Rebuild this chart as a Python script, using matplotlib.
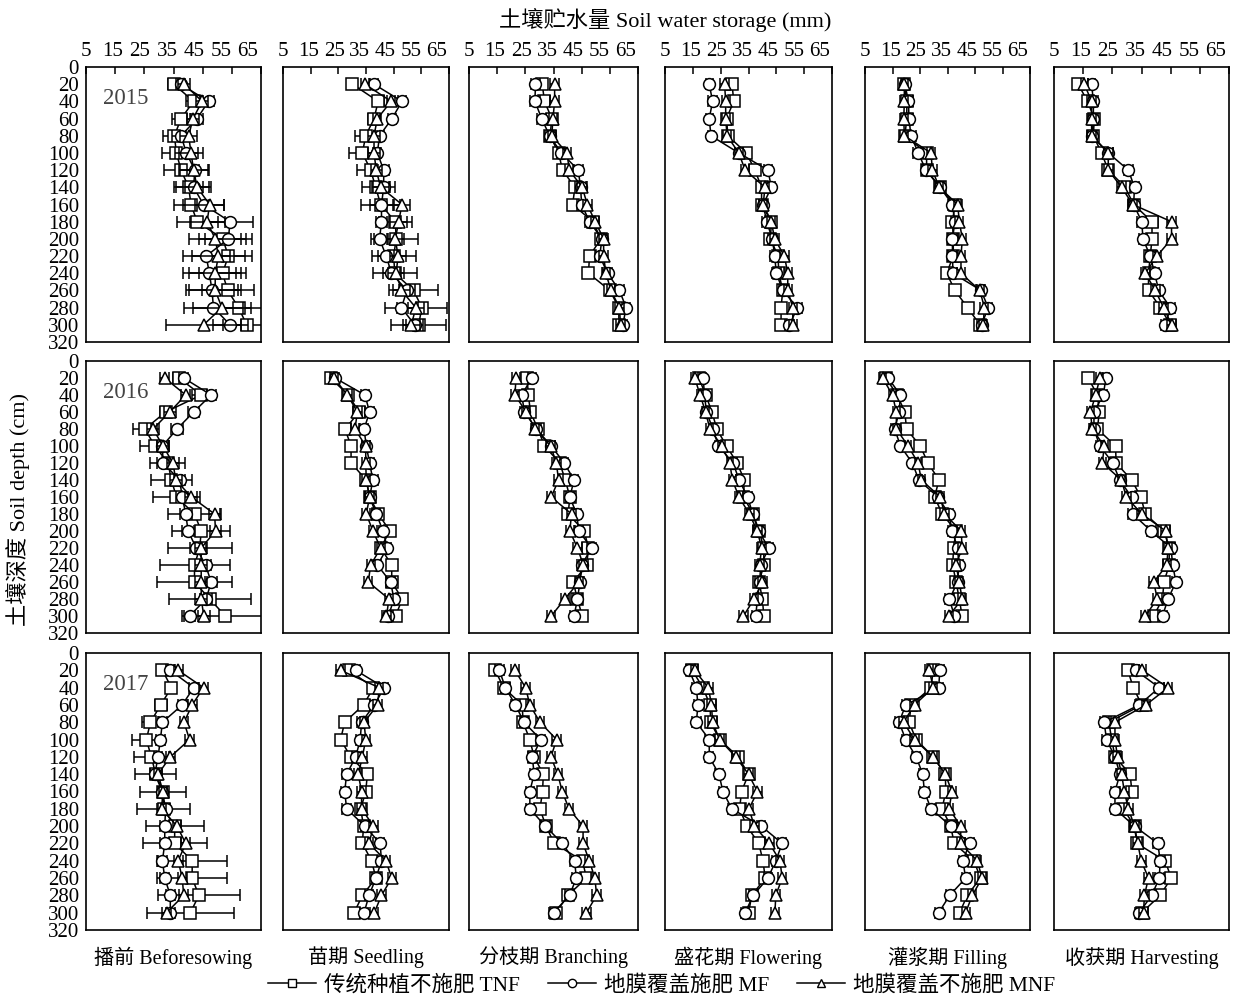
import numpy as np
import matplotlib
matplotlib.use('Agg')
import matplotlib.pyplot as plt
from matplotlib.lines import Line2D

plt.rcParams['font.family'] = ['Liberation Serif', 'Noto Sans CJK SC']

depth = [20, 40, 60, 80, 100, 120, 140, 160, 180, 200, 220, 240, 260, 280, 300]
stages = ['播前 Beforesowing', '苗期 Seedling', '分枝期 Branching',
          '盛花期 Flowering', '灌浆期 Filling', '收获期 Harvesting']
years = ['2015', '2016', '2017']
series_names = ['传统种植不施肥 TNF', '地膜覆盖施肥 MF', '地膜覆盖不施肥 MNF']
x_labels = [5, 15, 25, 35, 45, 55, 65]

# 2015, one list per stage
tnf_2015 = [
    [35.1, 41.9, 37.6, 35.3, 36.0, 37.6, 40.2, 41.0, 43.1, 51.9, 53.8, 51.8, 53.6, 57.3, 60.1],
    [30.1, 39.4, 37.9, 34.9, 33.7, 36.7, 38.5, 40.3, 45.6, 45.9, 45.0, 45.4, 52.2, 55.2, 54.0],
    [31.0, 31.8, 34.4, 33.8, 36.8, 38.2, 42.6, 41.8, 49.0, 51.8, 47.8, 47.4, 55.0, 58.2, 58.2],
    [29.1, 29.7, 27.1, 27.6, 34.2, 37.3, 39.7, 39.7, 43.2, 42.9, 45.6, 45.9, 47.3, 46.7, 46.7],
    [19.3, 20.2, 20.2, 19.5, 27.4, 27.4, 32.3, 37.7, 36.8, 37.1, 37.1, 34.7, 37.7, 42.3, 46.8],
    [13.3, 16.5, 18.8, 18.5, 21.3, 23.6, 29.4, 32.3, 38.6, 38.6, 38.0, 37.4, 37.4, 41.5, 44.9],
]
mf_2015 = [
    [37.4, 47.0, 43.1, 37.6, 39.4, 42.3, 41.9, 45.3, 54.4, 53.8, 46.2, 47.3, 48.2, 48.7, 54.4],
    [37.9, 48.0, 44.4, 39.9, 39.1, 41.4, 41.4, 40.6, 40.6, 39.9, 42.3, 44.2, 49.8, 47.8, 52.6],
    [28.6, 28.4, 30.8, 33.6, 37.8, 43.8, 44.6, 45.0, 47.8, 52.2, 51.4, 54.2, 58.4, 60.8, 59.6],
    [20.9, 22.1, 20.9, 21.5, 31.5, 42.0, 43.2, 40.3, 41.5, 43.6, 44.4, 45.0, 47.3, 52.6, 49.7],
    [19.5, 20.8, 21.0, 21.7, 24.4, 27.1, 32.3, 36.8, 37.7, 36.8, 36.8, 37.0, 47.2, 49.8, 47.4],
    [17.9, 18.5, 18.5, 18.1, 23.6, 30.5, 32.6, 32.3, 35.1, 35.5, 38.0, 39.5, 40.9, 44.9, 43.2],
]
mnf_2015 = [
    [38.7, 44.8, 41.7, 40.2, 41.0, 41.9, 43.1, 47.4, 46.5, 49.3, 50.4, 49.3, 49.3, 51.6, 45.3],
    [34.6, 44.1, 39.1, 37.9, 37.9, 38.7, 40.3, 48.0, 46.8, 45.6, 46.6, 45.9, 47.8, 53.0, 51.4],
    [35.4, 35.4, 34.8, 34.4, 39.8, 40.6, 45.2, 47.0, 49.8, 52.8, 52.8, 53.6, 55.4, 58.4, 58.8],
    [26.4, 26.8, 26.8, 27.3, 31.5, 33.8, 40.9, 40.3, 43.2, 44.4, 47.9, 49.1, 49.1, 50.9, 50.9],
    [19.3, 19.3, 19.1, 19.3, 29.0, 29.5, 32.0, 38.7, 39.3, 40.4, 39.9, 39.9, 46.8, 48.4, 48.0],
    [15.4, 17.9, 17.9, 17.9, 23.6, 23.6, 28.2, 32.0, 45.3, 45.3, 40.3, 36.3, 39.7, 42.6, 45.3],
]

# 2016
tnf_2016 = [
    [36.9, 44.5, 32.3, 25.2, 28.6, 33.1, 34.3, 36.0, 42.2, 44.5, 44.0, 42.2, 42.2, 47.4, 52.8],
    [22.2, 28.6, 32.5, 27.4, 29.6, 29.6, 35.1, 36.3, 39.5, 43.6, 40.3, 44.3, 44.3, 48.1, 45.7],
    [25.6, 26.1, 26.8, 29.5, 31.8, 37.2, 39.2, 40.8, 40.2, 45.9, 47.4, 46.8, 42.0, 43.5, 45.2],
    [17.2, 19.6, 21.9, 23.6, 27.1, 30.9, 33.5, 33.2, 36.7, 38.8, 40.5, 40.5, 38.8, 40.0, 40.5],
    [12.6, 16.7, 19.5, 20.1, 25.1, 27.9, 31.9, 30.3, 33.1, 38.1, 37.2, 36.9, 38.1, 39.3, 40.3],
    [16.7, 19.9, 20.5, 19.9, 26.1, 26.3, 31.6, 34.8, 36.3, 42.7, 44.5, 44.5, 42.7, 42.2, 39.2],
]
mf_2016 = [
    [38.5, 47.9, 41.9, 36.2, 31.2, 31.4, 37.1, 38.0, 39.2, 40.0, 42.8, 46.0, 47.9, 46.2, 40.5],
    [23.8, 34.6, 36.3, 34.3, 35.1, 36.3, 37.5, 36.3, 38.7, 41.2, 42.7, 39.1, 43.9, 45.1, 43.1],
    [27.3, 23.7, 24.7, 28.9, 34.2, 38.8, 42.3, 40.8, 43.2, 44.0, 48.5, 45.0, 44.4, 43.5, 42.3],
    [18.7, 19.2, 19.9, 22.2, 24.2, 29.5, 31.6, 34.7, 36.5, 38.6, 42.3, 39.4, 39.0, 38.2, 37.6],
    [13.4, 17.9, 17.4, 15.8, 17.9, 22.2, 24.6, 31.5, 35.5, 36.7, 38.7, 39.1, 38.7, 35.7, 37.5],
    [22.8, 21.9, 18.7, 18.7, 20.7, 25.2, 27.5, 31.6, 32.0, 38.3, 45.1, 45.7, 46.8, 44.1, 42.2],
]
mnf_2016 = [
    [32.0, 39.2, 33.7, 28.0, 31.4, 34.8, 35.8, 41.1, 49.1, 49.4, 44.5, 44.5, 44.5, 44.5, 45.4],
    [23.4, 28.3, 31.9, 31.0, 34.9, 34.9, 35.1, 36.3, 35.1, 37.5, 40.3, 36.7, 35.8, 43.3, 42.4],
    [21.7, 21.3, 25.3, 28.5, 34.0, 36.0, 36.8, 34.2, 41.4, 40.8, 43.5, 45.6, 44.0, 39.0, 34.2],
    [15.7, 17.6, 19.6, 21.1, 25.4, 28.3, 29.2, 31.6, 35.3, 38.2, 39.7, 39.0, 40.0, 37.0, 33.2],
    [11.4, 15.0, 16.4, 16.4, 20.7, 24.3, 25.5, 32.4, 33.9, 40.0, 40.3, 38.1, 39.3, 40.3, 35.5],
    [20.7, 19.3, 17.5, 18.1, 22.2, 21.6, 28.1, 29.8, 35.1, 43.3, 44.1, 43.7, 39.2, 40.4, 36.3],
]

# 2017
tnf_2017 = [
    [31.2, 34.3, 30.6, 27.1, 25.7, 27.4, 28.9, 31.4, 31.6, 35.4, 35.4, 41.4, 41.4, 43.7, 40.8],
    [28.9, 37.7, 34.1, 27.3, 25.8, 29.5, 35.5, 34.9, 33.1, 34.1, 33.7, 37.0, 38.6, 33.7, 30.7],
    [14.3, 17.3, 23.9, 24.2, 26.6, 28.1, 31.4, 31.1, 30.2, 32.3, 35.3, 45.3, 46.7, 40.1, 35.9],
    [14.8, 18.6, 21.2, 21.4, 24.6, 31.3, 35.0, 32.5, 31.8, 34.4, 38.7, 40.2, 41.0, 36.2, 35.0],
    [29.8, 29.0, 21.8, 21.0, 23.6, 29.8, 34.2, 34.4, 33.0, 36.2, 37.4, 44.6, 47.0, 42.2, 39.4],
    [30.3, 32.2, 35.1, 23.8, 24.8, 25.9, 31.1, 31.7, 28.8, 32.6, 33.4, 43.1, 45.2, 41.4, 35.1],
]
mf_2017 = [
    [33.9, 41.9, 38.0, 31.2, 30.5, 29.7, 28.6, 31.2, 32.3, 32.0, 32.0, 31.2, 32.0, 33.9, 33.9],
    [31.3, 41.6, 38.0, 33.4, 32.9, 31.3, 28.0, 27.3, 28.0, 34.6, 40.1, 40.6, 38.6, 36.1, 34.3],
    [15.8, 17.9, 21.5, 24.5, 30.5, 27.5, 28.1, 26.6, 26.6, 32.1, 38.1, 42.5, 43.1, 40.7, 35.0],
    [13.7, 16.3, 16.8, 16.3, 20.9, 20.9, 24.4, 25.8, 29.0, 39.6, 47.1, 44.8, 42.0, 36.7, 33.8],
    [32.2, 31.8, 19.8, 17.4, 19.8, 23.6, 26.0, 26.6, 29.0, 36.2, 43.0, 40.6, 41.6, 35.8, 31.8],
    [33.0, 41.1, 34.2, 22.2, 23.0, 25.9, 27.6, 25.9, 25.9, 32.6, 40.6, 41.4, 41.1, 38.5, 34.2],
]
mnf_2017 = [
    [36.6, 45.3, 41.4, 38.6, 40.5, 33.9, 29.7, 31.4, 30.9, 36.2, 39.2, 36.6, 38.0, 38.5, 32.6],
    [25.8, 39.8, 39.2, 34.3, 34.9, 33.7, 32.2, 33.4, 33.4, 37.7, 36.1, 42.2, 44.3, 40.6, 38.0],
    [21.3, 25.1, 26.6, 30.2, 36.1, 34.1, 36.5, 38.1, 40.5, 45.5, 45.5, 47.7, 49.7, 50.3, 46.7],
    [15.6, 20.6, 21.7, 22.1, 24.6, 30.4, 35.0, 38.2, 35.2, 37.1, 42.5, 46.3, 47.1, 44.8, 44.5],
    [28.4, 29.8, 23.0, 19.0, 23.0, 29.8, 34.2, 36.6, 35.6, 39.8, 39.8, 45.8, 47.6, 44.0, 41.6],
    [35.3, 44.1, 36.5, 25.9, 25.9, 26.8, 28.2, 29.1, 30.5, 32.6, 33.7, 34.9, 37.4, 36.0, 35.7],
]

# standard errors (same layout)
tnf_err_2015 = [
    [2, 2.5, 3, 4, 5, 6, 5, 6, 7, 8, 8, 8, 9, 9, 8],
    [1.5, 2, 2, 4, 5, 5, 5, 7, 6, 8, 8, 8, 9, 9, 10],
    [1.8, 2, 1.5, 1.5, 1.5, 1.5, 1.8, 1.5, 1.5, 1.5, 1.5, 1.8, 1.5, 1.5, 1.5],
    [1.5, 1.8, 1.5, 1.5, 1.5, 1.8, 1.5, 1.5, 1.5, 1.5, 1.5, 1.5, 1.5, 1.5, 1.5],
    [1.2, 1.5, 1.5, 1.8, 1.8, 1.5, 1.5, 1.5, 1.5, 1.5, 1.5, 1.5, 1.5, 1.5, 1.5],
    [1.2, 1.5, 1.5, 1.5, 1.5, 1.5, 1.5, 1.5, 2.0, 1.5, 1.5, 1.5, 1.5, 1.5, 1.5],
]
mf_err_2015 = [
    [1.5, 2, 2, 3, 4, 5, 6, 7, 8, 8, 8, 9, 9, 10, 6],
    [1.5, 1.5, 1.5, 1.5, 1.5, 2, 4, 4, 2, 3, 3, 3, 3, 6, 3],
    [1.5, 1.8, 1.5, 1.5, 1.5, 1.5, 1.8, 1.5, 1.5, 1.5, 1.5, 1.5, 1.5, 1.5, 1.5],
    [1.2, 1.5, 1.2, 1.2, 1.5, 1.5, 1.5, 1.5, 1.5, 1.5, 1.5, 1.5, 1.5, 1.5, 1.5],
    [1.2, 1.5, 1.5, 1.8, 1.8, 1.5, 1.5, 1.5, 1.5, 1.5, 1.5, 1.5, 1.5, 1.5, 1.5],
    [1.2, 1.5, 1.5, 1.5, 1.5, 1.5, 1.5, 1.5, 1.5, 1.5, 1.5, 1.5, 1.5, 1.5, 1.5],
]
mnf_err_2015 = [
    [2, 2, 2, 3, 4, 5, 4, 5, 6, 9, 9, 9, 9, 10, 13],
    [1.5, 1.5, 1.5, 2, 2, 2, 3, 3, 3, 3, 3, 3, 3, 3, 3],
    [1.5, 1.5, 1.5, 1.5, 1.5, 1.5, 1.8, 1.5, 1.5, 1.5, 1.5, 1.5, 1.5, 1.5, 1.5],
    [1.5, 1.5, 1.5, 1.5, 1.5, 1.5, 1.5, 1.5, 1.5, 1.5, 1.5, 1.5, 1.5, 1.5, 1.5],
    [1.2, 1.5, 1.5, 1.5, 1.5, 1.5, 1.5, 1.5, 1.5, 1.5, 1.5, 1.5, 1.5, 1.5, 1.5],
    [1.2, 1.5, 1.5, 1.5, 1.5, 1.5, 1.5, 1.5, 1.5, 1.5, 1.5, 1.5, 1.5, 1.5, 1.5],
]
tnf_err_2016 = [
    [2, 3, 2, 4, 5, 6, 7, 8, 9, 10, 11, 12, 13, 14, 15],
    [1.5, 1.5, 1.5, 1.5, 1.2, 1.2, 1.5, 1.5, 1.5, 1.5, 1.5, 1.5, 1.5, 1.5, 1.5],
    [1.5, 1.5, 1.5, 1.5, 1.5, 1.5, 1.8, 1.5, 1.5, 1.5, 1.5, 1.5, 1.5, 1.5, 1.5],
    [1.2, 1.2, 1.2, 1.2, 1.2, 1.2, 1.2, 1.5, 1.5, 1.5, 1.5, 1.5, 1.5, 1.5, 1.5],
    [1.2, 1.2, 1.2, 1.2, 1.2, 1.2, 1.2, 1.5, 1.5, 1.5, 1.5, 1.5, 1.5, 1.5, 1.5],
    [1.2, 1.2, 1.2, 1.2, 1.2, 1.2, 1.2, 1.5, 1.5, 1.5, 1.5, 1.5, 1.5, 1.5, 1.5],
]
mf_err_2016 = [
    [1.5, 1.5, 2, 2, 2, 2, 2, 2, 2, 2, 2, 2, 2, 2, 2],
    [1.5, 1.5, 1.5, 1.5, 1.5, 1.5, 1.8, 1.5, 1.5, 1.5, 1.5, 1.5, 1.5, 1.5, 1.5],
    [1.5, 1.5, 1.5, 1.5, 1.5, 1.5, 1.5, 1.5, 1.5, 1.5, 1.5, 1.5, 1.5, 1.5, 1.5],
    [1.2, 1.2, 1.2, 1.2, 1.2, 1.2, 1.2, 1.5, 1.5, 1.5, 1.5, 1.5, 1.5, 1.5, 1.5],
    [1.2, 1.2, 1.2, 1.2, 1.2, 1.2, 1.2, 1.5, 1.5, 1.5, 1.5, 1.5, 1.5, 1.5, 1.5],
    [1.2, 1.2, 1.2, 1.2, 1.2, 1.2, 1.2, 1.5, 1.5, 1.5, 1.5, 1.5, 1.5, 1.5, 1.5],
]
mnf_err_2016 = [
    [1.5, 1.5, 2, 2, 2, 2, 2, 2, 2, 2, 2, 2, 2, 2, 2],
    [1.5, 1.5, 1.5, 1.5, 1.5, 1.5, 1.5, 1.5, 1.5, 1.5, 1.5, 1.5, 1.5, 1.5, 1.5],
    [1.5, 1.5, 1.5, 1.5, 1.5, 1.5, 1.5, 1.5, 1.5, 1.5, 1.5, 1.5, 1.5, 1.5, 1.5],
    [1.2, 1.2, 1.2, 1.2, 1.2, 1.2, 1.2, 1.5, 1.5, 1.5, 1.5, 1.5, 1.5, 1.5, 1.5],
    [1.2, 1.2, 1.2, 1.2, 1.2, 1.2, 1.2, 1.5, 1.5, 1.5, 1.5, 1.5, 1.5, 1.5, 1.5],
    [1.2, 1.2, 1.2, 1.2, 1.2, 1.2, 1.2, 1.5, 1.5, 1.5, 1.5, 1.5, 1.5, 1.5, 1.5],
]
tnf_err_2017 = [
    [2, 1.5, 2, 3, 5, 6, 7, 8, 9, 10, 11, 12, 12, 14, 15],
    [1.5, 1.5, 1.5, 1.5, 1.5, 1.5, 1.5, 1.5, 1.5, 1.5, 1.5, 1.5, 1.5, 1.5, 1.5],
    [1.5, 1.5, 1.5, 1.5, 1.5, 1.5, 1.5, 1.5, 1.5, 1.5, 1.5, 1.5, 1.5, 1.5, 1.5],
    [1.2, 1.5, 1.5, 1.5, 1.5, 1.5, 1.5, 1.5, 1.5, 1.5, 1.5, 1.5, 1.5, 1.5, 1.5],
    [1.5, 1.5, 1.5, 1.5, 1.5, 1.5, 1.5, 1.5, 1.5, 1.5, 1.5, 1.5, 1.5, 1.5, 1.5],
    [1.2, 1.5, 1.5, 1.5, 1.5, 1.5, 1.5, 1.5, 1.5, 1.5, 1.5, 1.5, 1.5, 1.5, 1.5],
]
mf_err_2017 = [
    [1.5, 1.5, 1.5, 1.5, 1.5, 1.5, 1.5, 1.5, 1.5, 1.5, 1.5, 1.5, 1.5, 1.5, 1.5],
    [1.5, 1.5, 1.5, 1.5, 1.5, 1.5, 1.5, 1.5, 1.5, 1.5, 1.5, 1.5, 1.5, 1.5, 1.5],
    [1.5, 1.5, 1.5, 1.5, 1.5, 1.5, 1.5, 1.5, 1.5, 1.5, 1.5, 1.5, 1.5, 1.5, 1.5],
    [1.2, 1.5, 1.5, 1.5, 1.5, 1.5, 1.5, 1.5, 1.5, 1.5, 1.5, 1.5, 1.5, 1.5, 1.5],
    [1.5, 1.5, 1.5, 1.5, 1.5, 1.5, 1.5, 1.5, 1.5, 1.5, 1.5, 1.5, 1.5, 1.5, 1.5],
    [1.2, 1.5, 1.5, 1.5, 1.5, 1.5, 1.5, 1.5, 1.5, 1.5, 1.5, 1.5, 1.5, 1.5, 1.5],
]
mnf_err_2017 = [
    [1.5, 1.5, 1.5, 1.5, 1.5, 1.5, 1.5, 1.5, 1.5, 1.5, 1.5, 1.5, 1.5, 1.5, 1.5],
    [1.5, 1.5, 1.5, 1.5, 1.5, 1.5, 1.5, 1.5, 1.5, 1.5, 1.5, 1.5, 1.5, 1.5, 1.5],
    [1.5, 1.5, 1.5, 1.5, 1.5, 1.5, 1.5, 1.5, 1.5, 1.5, 1.5, 1.5, 1.5, 1.5, 1.5],
    [1.2, 1.5, 1.5, 1.5, 1.5, 1.5, 1.5, 1.5, 1.5, 1.5, 1.5, 1.5, 1.5, 1.5, 1.5],
    [1.5, 1.5, 1.5, 1.5, 1.5, 1.5, 1.5, 1.5, 1.5, 1.5, 1.5, 1.5, 1.5, 1.5, 1.5],
    [1.2, 1.5, 1.5, 1.5, 1.5, 1.5, 1.5, 1.5, 1.5, 1.5, 1.5, 1.5, 1.5, 1.5, 1.5],
]

values = {'2015': (tnf_2015, mf_2015, mnf_2015),
          '2016': (tnf_2016, mf_2016, mnf_2016),
          '2017': (tnf_2017, mf_2017, mnf_2017)}
errors = {'2015': (tnf_err_2015, mf_err_2015, mnf_err_2015),
          '2016': (tnf_err_2016, mf_err_2016, mnf_err_2016),
          '2017': (tnf_err_2017, mf_err_2017, mnf_err_2017)}

markers = ['s', 'o', '^']

W, H = 1236, 998
fig = plt.figure(figsize=(W / 100, H / 100), dpi=100)

# panel boxes in pixels
col_px = [(86, 261), (283, 449), (469, 638), (665, 832), (865, 1030), (1054, 1229)]
row_px = [(67, 342), (361, 633), (653, 930)]

for r, year in enumerate(years):
    for c, stage in enumerate(stages):
        x0, x1 = col_px[c]
        y0, y1 = row_px[r]
        ax = fig.add_axes([x0 / W, 1 - y1 / H, (x1 - x0) / W, (y1 - y0) / H])
        for k in range(3):
            ax.errorbar(values[year][k][c], depth, xerr=errors[year][k][c],
                        fmt='-', marker=markers[k], ms=8.5, mfc='white', mec='black',
                        mew=1.1, color='black', lw=1.1, ecolor='black',
                        elinewidth=1.1, capsize=4, capthick=1.1, zorder=3 + k)
        ax.set_xlim(5, 65)
        ax.set_ylim(320, 0)
        ax.set_xticks(range(5, 66, 10))
        ax.set_yticks(range(0, 321, 20))
        for sp in ax.spines.values():
            sp.set_linewidth(1.2)
        if r == 0:
            ax.xaxis.tick_top()
            ax.tick_params(axis='x', direction='in', length=5, width=1.1,
                           labeltop=False)
            # the tick labels of the original sit a little compressed
            for v in x_labels:
                ax.text((v - 5) / 60 * 0.926, 1 + 15 / (y1 - y0), str(v),
                        transform=ax.transAxes, ha='center', va='center',
                        fontsize=15)
        else:
            ax.tick_params(axis='x', length=0, labeltop=False, labelbottom=False)
        if c == 0:
            ax.tick_params(axis='y', length=0, labelsize=15, pad=5)
            ax.text(0.097, 0.885, year, transform=ax.transAxes, fontsize=16.5,
                    va='center', color='#444444')
        else:
            ax.tick_params(axis='y', length=0, labelleft=False)
        if r == 2:
            ax.text(0.5, -0.06, stage, transform=ax.transAxes, ha='center',
                    va='top', fontsize=14.5)

fig.text(665 / W, 1 - 20 / H, '土壤贮水量 Soil water storage (mm)', ha='center',
         va='center', fontsize=16)
fig.text(18 / W, 1 - 510 / H, '土壤深度 Soil depth (cm)', ha='center',
         va='center', rotation=90, fontsize=16)

handles = [Line2D([0], [0], color='black', lw=1.1, marker=m, ms=6, mfc='white',
                  mec='black') for m in markers]
fig.legend(handles, series_names, loc='center', bbox_to_anchor=(662 / W, 1 - 985 / H),
           ncol=3, frameon=False, fontsize=15.5, handlelength=2.2, handletextpad=0.4,
           columnspacing=1.3)

fig.savefig('out.png', dpi=100)
